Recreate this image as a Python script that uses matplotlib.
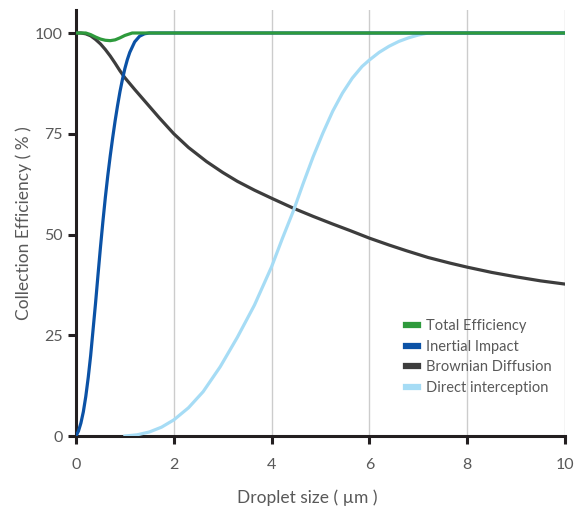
import matplotlib
matplotlib.use("Agg")
from matplotlib import pyplot as plt

plt.rcParams['font.family'] = ['Lato', 'DejaVu Sans']

# droplet size (um) and collection efficiencies (%)
x_brown = [0, 0.1, 0.2, 0.3, 0.4, 0.5, 0.6, 0.7, 0.8, 0.9, 1.0, 1.2, 1.45, 1.7, 2.0,
           2.3, 2.67, 3.0, 3.3, 3.65, 4.0, 4.45, 4.85, 5.25, 5.6, 6.0, 6.4, 6.75,
           7.2, 7.65, 8.0, 8.5, 9.0, 9.5, 10]
y_brown = [100, 100, 99.8, 99.3, 98.4, 97.3, 95.9, 94.3, 92.5, 90.6, 88.9, 86.0, 82.5, 79.0, 75.0,
           71.6, 68.1, 65.4, 63.2, 61.0, 59.0, 56.5, 54.5, 52.6, 51.0, 49.1, 47.4, 46.0,
           44.3, 42.9, 41.9, 40.6, 39.5, 38.5, 37.7]

x_inert = [0, 0.05, 0.1, 0.15, 0.2, 0.25, 0.3, 0.35, 0.4, 0.45, 0.5, 0.55, 0.6, 0.65,
           0.7, 0.75, 0.8, 0.85, 0.9, 0.95, 1.0, 1.05, 1.1, 1.2, 1.3, 1.4, 1.5, 10]
y_inert = [0, 1.2, 3.2, 6, 9.8, 14.5, 20, 26.5, 33, 40, 46.8, 53.2, 59.2, 64.6,
           69.5, 74, 78.2, 82, 85.5, 88.5, 91.2, 93.4, 95.2, 97.8, 99.2, 99.8, 100, 100]

x_direct = [1.0, 1.25, 1.5, 1.75, 2.0, 2.3, 2.6, 2.95, 3.3, 3.65, 4.0, 4.22, 4.45, 4.65,
            4.85, 5.05, 5.25, 5.45, 5.65, 5.85, 6.0, 6.2, 6.4, 6.6, 6.8, 7.0, 7.2, 10]
y_direct = [0, 0.3, 1.0, 2.2, 4.0, 7.0, 11.0, 17.2, 24.5, 32.5, 42.0, 49.0, 56.0, 62.8,
            69.3, 75.2, 80.6, 85.1, 88.8, 91.7, 93.3, 95.2, 96.7, 97.9, 98.8, 99.5, 100, 100]

x_total = [0, 0.2, 0.3, 0.4, 0.5, 0.6, 0.7, 0.8, 0.9, 1.0, 1.1, 1.15, 10]
y_total = [100, 100, 99.6, 99.0, 98.5, 98.2, 98.1, 98.3, 98.8, 99.4, 99.8, 100, 100]

fig = plt.figure(figsize=(5.74, 5.12), dpi=100)
ax = fig.add_axes([0.1324, 0.1484, 0.8519, 0.832])

lw = 2.3
ax.plot(x_total, y_total, color='#2e9a3c', lw=lw, label='Total Efficiency', zorder=5)
ax.plot(x_inert, y_inert, color='#0b52a6', lw=lw, label='Inertial Impact', zorder=4)
ax.plot(x_brown, y_brown, color='#3d3d3d', lw=lw, label='Brownian Diffusion', zorder=3)
ax.plot(x_direct, y_direct, color='#a6dcf5', lw=lw, label='Direct interception', zorder=3)

ax.set_xlim(0, 10)
ax.set_ylim(0, 105.7)
ax.set_xticks([0, 2, 4, 6, 8, 10])
ax.set_yticks([0, 25, 50, 75, 100])
ax.grid(axis='x', color='#cccccc', lw=1)
ax.set_axisbelow(True)

for s in ['top', 'right']:
    ax.spines[s].set_visible(False)
for s in ['left', 'bottom']:
    ax.spines[s].set_color('#231f20')
    ax.spines[s].set_linewidth(2.2)
ax.tick_params(colors='#231f20', width=2.2, length=6, labelcolor='#595959', labelsize=11.5)
ax.tick_params(axis='x', pad=10)

ax.set_xlabel('Droplet size ( µm )', color='#595959', fontsize=12.5)
ax.set_ylabel('Collection Efficiency ( % )', color='#595959', fontsize=12.5)
ax.xaxis.set_label_coords(0.472, -0.125)
ax.yaxis.set_label_coords(-0.09, 0.5)

leg = ax.legend(loc='upper left', bbox_to_anchor=(0.648, 0.305), frameon=False,
                handlelength=0.8, handletextpad=0.6, labelspacing=0.45, fontsize=10.5,
                labelcolor='#595959')
for h in leg.get_lines():
    h.set_linewidth(4.5)

fig.savefig('out.png', dpi=100)
